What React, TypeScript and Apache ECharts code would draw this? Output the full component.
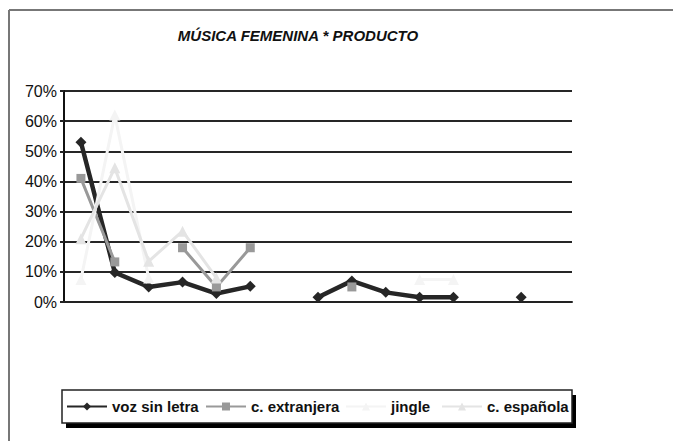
import React, { useEffect, useRef } from "react";
import * as echarts from "echarts";

const categories = ["1", "2", "3", "4", "5", "6", "7", "8", "9", "10", "11", "12", "13", "14", "15"];
const vozSinLetra = [53, 9.8, 5, 6.6, 2.8, 5.2, null, 1.6, 7, 3.2, 1.6, 1.6, null, 1.6, null];
const cExtranjera = [41, 13.3, null, 18, 5, 18, null, null, 5, null, null, null, null, null, null];
const jingle = [7.5, 62, 8, null, null, null, null, null, null, null, 7.5, 7.5, null, null, null];
const cEspanola = [21, 44.5, 13.5, 23.5, 8, null, null, null, null, null, null, null, null, null, null];
const yTicks = [0, 10, 20, 30, 40, 50, 60, 70];
const seriesNames = ["voz sin letra", "c. extranjera", "jingle", "c. española"];

export default function App() {
  const ref = useRef<HTMLDivElement>(null);
  useEffect(() => {
    if (!ref.current) return;
    const chart = echarts.init(ref.current, null, { renderer: "svg" });
    const font = "Liberation Sans, Arial, sans-serif";
    const legendLefts = [66, 205, 345, 441];
    const legends = seriesNames.map((name, i) => ({
      left: legendLefts[i],
      top: 399,
      orient: "horizontal",
      itemWidth: 40,
      itemHeight: 10,
      padding: 0,
      textStyle: { fontFamily: font, fontSize: 15, fontWeight: "bold", color: "#111" },
      data: [name],
    }));
    chart.setOption({
      animation: false,
      backgroundColor: "#ffffff",
      title: {
        text: "MÚSICA FEMENINA * PRODUCTO",
        left: 293,
        textAlign: "center",
        top: 23,
        textStyle: {
          fontFamily: font,
          fontSize: 15,
          fontWeight: "bold",
          fontStyle: "italic",
          color: "#111",
        },
      },
      graphic: [
        { type: "line", shape: { x1: 9, y1: 10, x2: 673, y2: 10 }, style: { stroke: "#777", lineWidth: 2 } },
        { type: "line", shape: { x1: 9, y1: 10, x2: 9, y2: 441 }, style: { stroke: "#777", lineWidth: 2 } },
        { type: "rect", z: -1, shape: { x: 66, y: 395, width: 510, height: 33 }, style: { fill: "#000" } },
        { type: "rect", z: -1, shape: { x: 62, y: 390, width: 510, height: 33 }, style: { fill: "#fff", stroke: "#222", lineWidth: 1.5 } },
      ],
      legend: legends,
      grid: { left: 64, right: 101, top: 91, bottom: 139, containLabel: false },
      xAxis: {
        type: "category",
        data: categories,
        boundaryGap: true,
        axisLine: { show: true, lineStyle: { color: "#222", width: 2 } },
        axisTick: { show: false },
        axisLabel: { show: false },
        splitLine: { show: false },
      },
      yAxis: {
        type: "value",
        min: yTicks[0],
        max: yTicks[yTicks.length - 1],
        interval: 10,
        axisLine: { show: true, lineStyle: { color: "#111", width: 2 } },
        axisTick: { show: true, length: 4, lineStyle: { color: "#222", width: 2 } },
        axisLabel: {
          formatter: (v: number) => v + "%",
          fontFamily: font,
          fontSize: 16,
          color: "#111",
          margin: 7,
        },
        splitLine: { show: true, lineStyle: { color: "#262626", width: 2 } },
      },
      series: [
        {
          name: seriesNames[0],
          type: "line",
          data: vozSinLetra,
          symbol: "diamond",
          symbolSize: 11,
          lineStyle: { color: "#262626", width: 4.5 },
          itemStyle: { color: "#262626" },
        },
        {
          name: seriesNames[1],
          type: "line",
          data: cExtranjera,
          symbol: "rect",
          symbolSize: 9,
          lineStyle: { color: "#999999", width: 3 },
          itemStyle: { color: "#999999" },
        },
        {
          name: seriesNames[2],
          type: "line",
          data: jingle,
          symbol: "triangle",
          symbolSize: 11,
          lineStyle: { color: "#f4f4f4", width: 3 },
          itemStyle: { color: "#f4f4f4" },
        },
        {
          name: seriesNames[3],
          type: "line",
          data: cEspanola,
          symbol: "triangle",
          symbolSize: 11,
          lineStyle: { color: "#e4e4e4", width: 3 },
          itemStyle: { color: "#e4e4e4" },
        },
      ],
    });
    return () => chart.dispose();
  }, []);
  return <div ref={ref} style={{ position: "fixed", left: 0, top: 0, width: 673, height: 441 }} />;
}
